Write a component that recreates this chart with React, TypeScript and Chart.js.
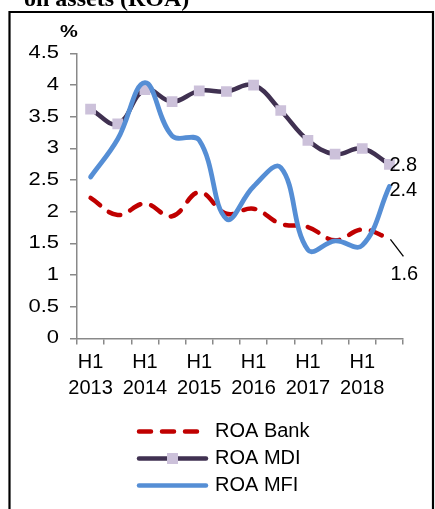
import React, { useEffect, useRef } from "react";
import { Chart, registerables } from "chart.js";

Chart.register(...registerables);

const categories = [
  "H1 2013", "H2 2013", "H1 2014", "H2 2014", "H1 2015", "H2 2015",
  "H1 2016", "H2 2016", "H1 2017", "H2 2017", "H1 2018", "H2 2018",
];
const xTickLabels: (string | string[])[] = [
  ["H1", "2013"], "", ["H1", "2014"], "", ["H1", "2015"], "",
  ["H1", "2016"], "", ["H1", "2017"], "", ["H1", "2018"], "",
];
const roaBank = [2.22, 1.95, 2.13, 1.93, 2.31, 1.97, 2.05, 1.81, 1.76, 1.55, 1.72, 1.58];
const roaMDI = [3.62, 3.39, 3.93, 3.74, 3.91, 3.9, 4.0, 3.6, 3.13, 2.91, 3.0, 2.75];
const roaMFI = [2.55, 3.15, 4.04, 3.2, 3.13, 1.89, 2.4, 2.7, 1.4, 1.54, 1.47, 2.4];
const yTicks = [0, 0.5, 1, 1.5, 2, 2.5, 3, 3.5, 4, 4.5];
const seriesNames = ["ROA Bank", "ROA MDI", "ROA MFI"];
const titleText = "on assets (ROA)";
const unitText = "%";

const FONT = '"Liberation Sans", Arial, sans-serif';
const AXIS_GRAY = "#898989";

function stretchedText(
  ctx: CanvasRenderingContext2D,
  text: string,
  x: number,
  y: number,
  sx: number,
  align: CanvasTextAlign
) {
  ctx.save();
  ctx.translate(x, y);
  ctx.scale(sx, 1);
  ctx.textAlign = align;
  ctx.fillText(text, 0, 0);
  ctx.restore();
}

const extrasPlugin = {
  id: "extras",
  afterDraw(chart: any) {
    const ctx = chart.ctx as CanvasRenderingContext2D;
    ctx.save();
    // title (cut off at top)
    ctx.fillStyle = "#000";
    ctx.font = 'bold 24px "Liberation Serif", "Times New Roman", serif';
    ctx.textAlign = "left";
    ctx.textBaseline = "alphabetic";
    ctx.fillText(titleText, 24, 6);
    // frame
    ctx.strokeStyle = "#000";
    ctx.lineWidth = 2.2;
    ctx.beginPath();
    ctx.moveTo(9.5, 520);
    ctx.lineTo(9.5, 12);
    ctx.lineTo(433, 12);
    ctx.lineTo(433, 520);
    ctx.stroke();
    // unit
    ctx.font = `bold 16px ${FONT}`;
    ctx.textBaseline = "middle";
    stretchedText(ctx, unitText, 69, 33, 1.25, "center");

    // y tick labels (from the library's y scale)
    const ys = chart.scales.y;
    ctx.font = `18px ${FONT}`;
    ctx.textBaseline = "middle";
    ys.ticks.forEach((t: any) => {
      const py = ys.getPixelForValue(t.value);
      stretchedText(ctx, String(t.value), 59, py, 1.22, "right");
    });

    // end labels
    ctx.font = `20px ${FONT}`;
    ctx.textAlign = "left";
    ctx.textBaseline = "middle";
    const last = categories.length - 1;
    const pt = (i: number) => chart.getDatasetMeta(i).data[last];
    const pBank = pt(0), pMDI = pt(1), pMFI = pt(2);
    ctx.fillText(roaMDI[last].toFixed(1), pMDI.x, pMDI.y + 1);
    ctx.fillText(roaMFI[last].toFixed(1), pMFI.x, pMFI.y + 4);
    ctx.strokeStyle = "#000";
    ctx.lineWidth = 1.3;
    ctx.beginPath();
    ctx.moveTo(pBank.x + 1, pBank.y + 1);
    ctx.lineTo(pBank.x + 14, pBank.y + 18);
    ctx.stroke();
    ctx.fillText(roaBank[last].toFixed(1), pBank.x + 1, pBank.y + 36);

    // legend
    const rows = [431.5, 458.5, 485.5];
    chart.data.datasets.forEach((ds: any, i: number) => {
      const y = rows[i];
      ctx.save();
      ctx.strokeStyle = ds.borderColor;
      ctx.lineWidth = 4.5;
      ctx.lineCap = "round";
      ctx.setLineDash(ds.borderDash || []);
      ctx.beginPath();
      ctx.moveTo(139, y);
      ctx.lineTo(206, y);
      ctx.stroke();
      ctx.restore();
      if (ds.pointRadius > 0) {
        ctx.fillStyle = ds.pointBackgroundColor;
        ctx.fillRect(172.5 - 5.5, y - 5.5, 11, 11);
      }
      ctx.fillStyle = "#000";
      ctx.font = `20px ${FONT}`;
      ctx.textAlign = "left";
      ctx.textBaseline = "middle";
      ctx.fillText(ds.label, 215, y);
    });
    ctx.restore();
  },
};

export default function App() {
  const ref = useRef<HTMLCanvasElement>(null);
  useEffect(() => {
    if (!ref.current) return;
    const chart = new Chart(ref.current, {
      type: "line",
      data: {
        labels: categories,
        datasets: [
          {
            label: seriesNames[0],
            data: roaBank,
            borderColor: "#C00000",
            borderWidth: 4.5,
            borderDash: [12, 11],
            borderCapStyle: "round",
            pointRadius: 0,
            tension: 0.4,
            order: 2,
          },
          {
            label: seriesNames[1],
            data: roaMDI,
            borderColor: "#403151",
            borderWidth: 4.5,
            pointStyle: "rect",
            pointRadius: 7.6,
            pointBackgroundColor: "#CCC1DA",
            pointBorderColor: "#CCC1DA",
            pointBorderWidth: 0,
            tension: 0.4,
            order: 1,
          },
          {
            label: seriesNames[2],
            data: roaMFI,
            borderColor: "#558ED5",
            borderWidth: 4.8,
            borderCapStyle: "round",
            pointRadius: 0,
            tension: 0.4,
            order: 0,
          },
        ],
      },
      options: {
        responsive: false,
        animation: false,
        events: [],
        layout: { padding: { left: 0, right: 32, top: 53.5, bottom: 0 } },
        plugins: { legend: { display: false }, tooltip: { enabled: false } },
        scales: {
          x: {
            offset: true,
            grid: {
              offset: true,
              drawOnChartArea: false,
              drawTicks: true,
              tickLength: 6,
              color: AXIS_GRAY,
              lineWidth: 1.5,
            },
            border: { display: true, color: AXIS_GRAY, width: 1.5 },
            ticks: {
              autoSkip: false,
              maxRotation: 0,
              minRotation: 0,
              padding: 5,
              color: "#000",
              font: { family: FONT, size: 20, lineHeight: 1.3 },
              callback: (_v: any, i: number) => xTickLabels[i],
            },
            afterFit: (s: any) => {
              s.height = 170.5;
            },
          },
          y: {
            min: 0,
            max: 4.5,
            afterBuildTicks: (s: any) => {
              s.ticks = yTicks.map((v) => ({ value: v }));
            },
            grid: {
              drawOnChartArea: false,
              drawTicks: true,
              tickLength: 7,
              color: AXIS_GRAY,
              lineWidth: 1.5,
            },
            border: { display: true, color: AXIS_GRAY, width: 1.5 },
            ticks: {
              padding: 10,
              color: "rgba(0,0,0,0)",
              font: { family: FONT, size: 18 },
              callback: (v: any) => String(v),
            },
            afterFit: (s: any) => {
              s.width = 77;
            },
          },
        },
      },
      plugins: [extrasPlugin],
    });
    return () => chart.destroy();
  }, []);
  return (
    <div style={{ position: "absolute", left: 0, top: 0, width: 435, height: 509, background: "#fff" }}>
      <canvas ref={ref} width={435} height={509} style={{ display: "block" }} />
    </div>
  );
}
